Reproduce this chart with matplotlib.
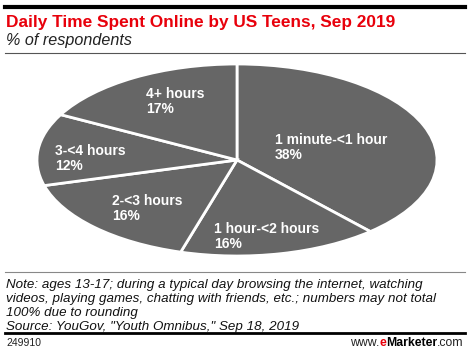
import matplotlib
matplotlib.use("Agg")
import matplotlib.pyplot as plt
from matplotlib.lines import Line2D

plt.rcParams['font.family'] = ['Liberation Sans', 'DejaVu Sans']

categories = ["1 minute-<1 hour", "1 hour-<2 hours", "2-<3 hours", "3-<4 hours", "4+ hours"]
shares = [38, 16, 16, 12, 17]

# label anchor points in figure pixels (left, top of first line)
label_pos = [(275, 133), (214, 222), (112, 194), (55, 144), (146, 87)]

W, H = 470, 355
fig = plt.figure(figsize=(W / 100, H / 100), dpi=100)


def px(x, y):
    return x / W, 1 - y / H


# pie axes sized to the ellipse
cx, cy, rx, ry = 237, 160, 200, 96
ax = fig.add_axes([(cx - rx) / W, 1 - (cy + ry) / H, 2 * rx / W, 2 * ry / H])
ax.pie(shares, startangle=90, counterclock=False, colors=['#666666'] * len(shares),
       wedgeprops=dict(edgecolor='white', linewidth=2))
ax.set_aspect('auto')
ax.set_xlim(-1, 1)
ax.set_ylim(-1, 1)
ax.axis('off')

for cat, val, (x, y) in zip(categories, shares, label_pos):
    fig.text(*px(x, y), f"{cat}\n{val}%", color='white', fontweight='bold',
             fontsize=10, ha='left', va='top', linespacing=1.1)

# rules
fig.add_artist(Line2D([5 / W, 465 / W], [1 - 7 / H] * 2, color='black', lw=3))
fig.add_artist(Line2D([5 / W, 465 / W], [1 - 53 / H] * 2, color='#555555', lw=0.8))
fig.add_artist(Line2D([5 / W, 465 / W], [1 - 272 / H] * 2, color='#888888', lw=0.8))
fig.add_artist(Line2D([5 / W, 465 / W], [1 - 333 / H] * 2, color='black', lw=2))

fig.text(*px(6, 22), "Daily Time Spent Online by US Teens, Sep 2019", color='#e8000b',
         fontweight='bold', fontsize=12.4, ha='left', va='center')
fig.text(*px(6, 41), "% of respondents", fontstyle='italic', fontsize=11.6,
         ha='left', va='center', color='#222222')

note = ("Note: ages 13-17; during a typical day browsing the internet, watching\n"
        "videos, playing games, chatting with friends, etc.; numbers may not total\n"
        "100% due to rounding\n"
        "Source: YouGov, \"Youth Omnibus,\" Sep 18, 2019")
fig.text(*px(6, 330), note, fontstyle='italic', fontsize=9.6, ha='left', va='baseline',
         linespacing=1.22, color='#111111')

fig.text(*px(6, 343), "249910", fontsize=7.5, ha='left', va='center', color='#222222')

# www.eMarketer.com built right to left
fig.canvas.draw()
r = fig.canvas.get_renderer()
x = 464
for s, kw in [(".com", dict(color='#222222')),
              ("Marketer", dict(color='black', fontweight='bold')),
              ("e", dict(color='#e8000b', fontweight='bold')),
              ("www.", dict(color='#222222'))]:
    t = fig.text(*px(x, 343), s, fontsize=8.8, ha='right', va='center', **kw)
    x -= t.get_window_extent(r).width

fig.savefig("out.png", dpi=100)
